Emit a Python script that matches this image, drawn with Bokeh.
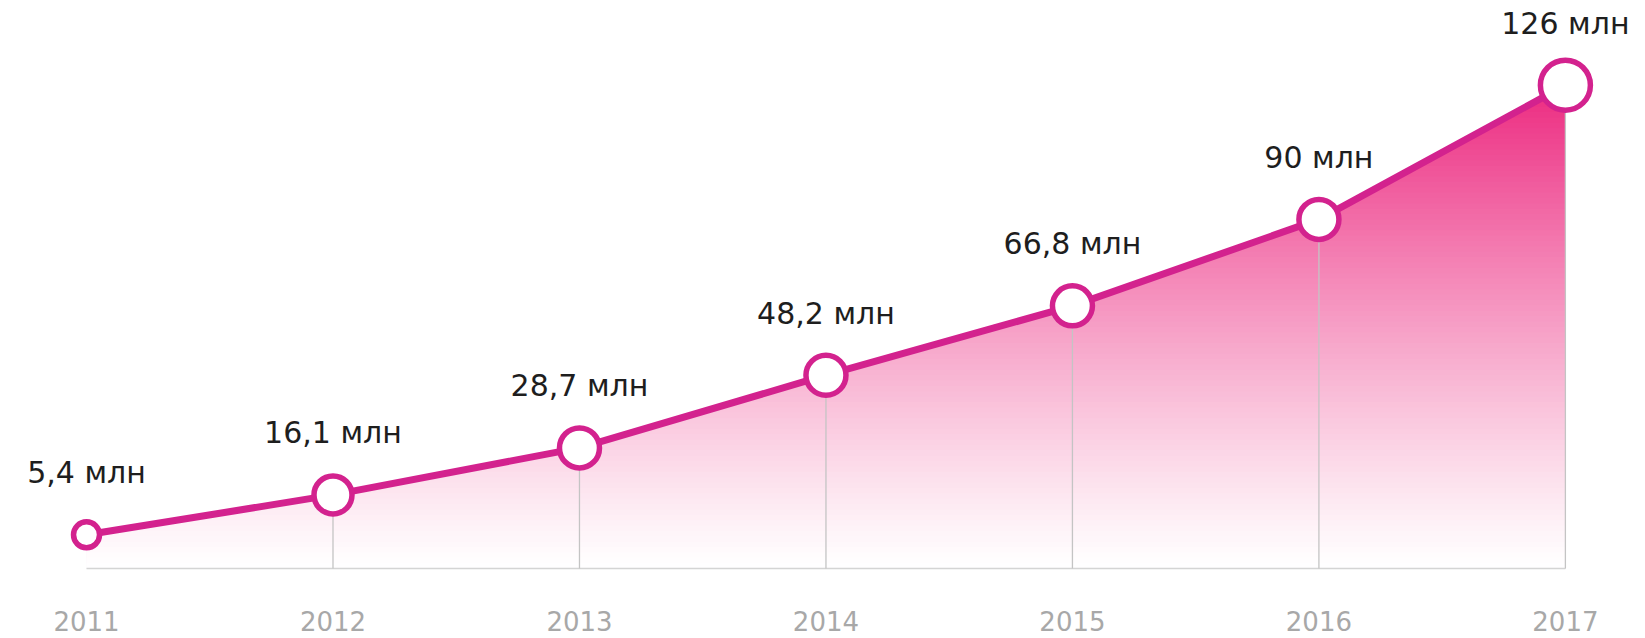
import numpy as np
from bokeh.plotting import figure
from bokeh.models import Range1d
from bokeh.core.properties import value
from bokeh.embed import file_html
from bokeh.resources import INLINE

# ---- data ----
years = [2011, 2012, 2013, 2014, 2015, 2016, 2017]
year_labels = ["2011", "2012", "2013", "2014", "2015", "2016", "2017"]
values = [5.4, 16.1, 28.7, 48.2, 66.8, 90.0, 126.0]
value_labels = ["5,4 млн", "16,1 млн", "28,7 млн", "48,2 млн", "66,8 млн", "90 млн", "126 млн"]

# ---- style ----
LINE_COLOR = "#d3228e"
TOP_RGB = (236, 42, 128)
BASE = -3.65          # value level of the grey baseline
marker_sizes = [26, 38, 40, 40, 40, 40, 50]
FONT = "DejaVu Sans"

W, H = 1645, 638
p = figure(width=W, height=H, output_backend="svg", toolbar_location=None,
           x_range=Range1d(2010.651, 2017.325), y_range=Range1d(-22.42, 148.71),
           min_border=0, min_border_left=0, min_border_right=0,
           min_border_top=0, min_border_bottom=0)
p.axis.visible = False
p.grid.visible = False
p.outline_line_color = None
p.background_fill_color = "white"
p.border_fill_color = "white"

xs = np.array(years, dtype=float)
vs = np.array(values, dtype=float)
TOP = vs.max()

# gradient fill: stacked areas from top colour downward
N = 90
step = (TOP - BASE) / N
for k in range(N - 1, -1, -1):
    hi = BASE + (k + 1) * step
    t = (k + 0.5) / N
    a = t ** 1.15
    rgb = tuple(int(round(255 - a * (255 - c))) for c in TOP_RGB)
    color = "#%02x%02x%02x" % rgb
    bp = list(xs)
    for i in range(len(xs) - 1):
        y0, y1 = vs[i], vs[i + 1]
        if (y0 - hi) * (y1 - hi) < 0:
            bp.append(xs[i] + (hi - y0) / (y1 - y0) * (xs[i + 1] - xs[i]))
    bp = np.array(sorted(bp))
    g = np.minimum(np.interp(bp, xs, vs), hi)
    p.varea(x=bp, y1=BASE, y2=g, fill_color=color, fill_alpha=1.0)

# grey baseline and vertical drop lines
p.segment(x0=[xs[0]], y0=[BASE], x1=[xs[-1]], y1=[BASE], line_color="#d4d4d4", line_width=1.5)
p.segment(x0=xs[1:], y0=BASE, x1=xs[1:], y1=vs[1:], line_color="#c4c4c4", line_width=1.3)

# main line
p.line(xs, vs, line_color=LINE_COLOR, line_width=7, line_join="round", line_cap="round")
p.scatter(xs, vs, marker="circle", size=marker_sizes, fill_color="white",
          line_color=LINE_COLOR, line_width=5.5)

# value labels
p.text(x=xs, y=vs, text=value_labels, text_align="center", text_baseline="middle",
       y_offset=-62, text_font=value(FONT), text_font_size="30px", text_color="#1e1e1e")

# year labels
p.text(x=xs, y=[BASE] * len(xs), text=year_labels, text_align="center", text_baseline="middle",
       y_offset=52, text_font=value(FONT), text_font_size="26px", text_color="#a8a8a8")

open("out.html", "w").write(file_html(p, INLINE))
